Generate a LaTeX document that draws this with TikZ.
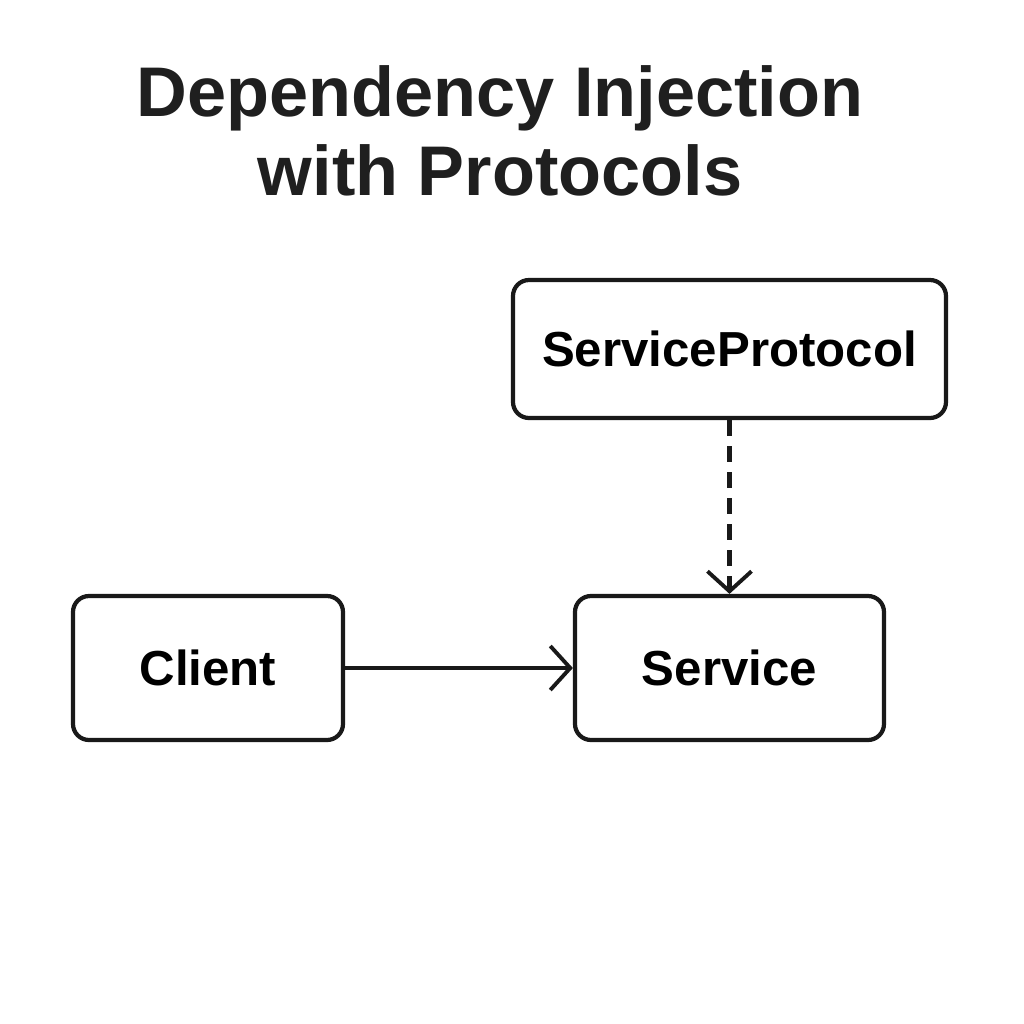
\documentclass[tikz,border=0pt]{standalone}
\usepackage{fontspec}
\setmainfont{Liberation Sans}
\usetikzlibrary{positioning,arrows.meta}
\tikzstyle{block} = [rectangle, rounded corners=0.16cm, line width=1.2pt, draw=black!90, inner sep=0pt, font=\fontsize{14}{16}\selectfont\bfseries]
\tikzstyle{arrow} = [line width=1.1pt, draw=black!90, -{Straight Barb[length=2mm,width=4.4mm,line width=1.1pt]}]

\begin{document}
\begin{tikzpicture}
\useasboundingbox (0,0) rectangle (10.24,-10.24);
%
\node (title) [align=center, font=\fontsize{20}{22.5}\selectfont\bfseries, text=black!88] at (5.0,-1.31) {Dependency Injection\\with Protocols};
%
\node (protocol) [block, minimum width=4.33cm, minimum height=1.38cm] at (7.295,-3.49) {ServiceProtocol};
\node (client) [block, minimum width=2.70cm, minimum height=1.44cm] at (2.08,-6.68) {Client};
\node (service) [block, minimum width=3.09cm, minimum height=1.44cm] at (7.295,-6.68) {Service};
%
\draw [arrow] (client) -- (service);
\draw [arrow, line width=1.3pt, dash pattern=on 0.16cm off 0.1cm] (protocol) -- (service);
%
\end{tikzpicture}
\end{document}
